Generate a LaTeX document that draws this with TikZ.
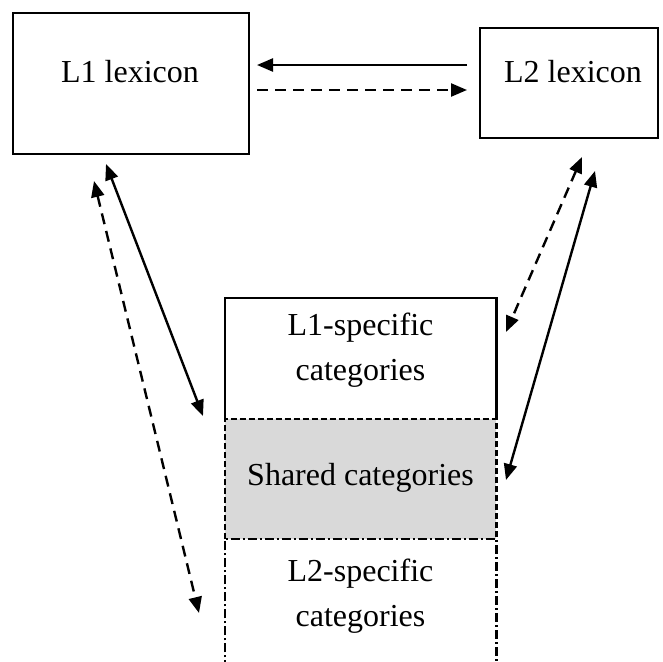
\documentclass[tikz,border=0pt]{standalone}
\usepackage{fontspec}
\setmainfont{Liberation Serif}
\usetikzlibrary{arrows.meta}
\definecolor{sharedgray}{HTML}{D9D9D9}
\begin{document}
\begin{tikzpicture}[x=1pt,y=-1pt,
  box/.style={draw, line width=2.4pt, inner sep=0pt, anchor=north west},
  area/.style={inner sep=0pt, anchor=north west, minimum width=271pt},
  lbl/.style={font=\fontsize{32}{37}\selectfont, inner sep=0pt, anchor=base},
  edge/.style={line width=2.4pt},
  dashedge/.style={line width=2.4pt, dash pattern=on 6pt off 3pt},
  dotedge/.style={line width=2.4pt, dash pattern=on 9pt off 3pt on 2pt off 3pt},
  link/.style={line width=2.4pt, {Triangle[length=16pt,width=13pt]}-{Triangle[length=16pt,width=13pt]}},
  onelink/.style={line width=2.4pt, -{Triangle[length=16pt,width=13pt]}},
  dashlink/.style={dash pattern=on 11pt off 7pt}]
\useasboundingbox (0,0) rectangle (662,662);

% lexicon boxes
\node[box, minimum width=236pt, minimum height=141pt] (l1) at (12,12) {};
\node[box, minimum width=178pt, minimum height=110pt] (l2) at (479,27) {};
\node[lbl] (l1t) at (130,82) {L1 lexicon};
\node[lbl] (l2t) at (573,82) {L2 lexicon};

% category column
\node[area, minimum height=121pt] (spec1) at (225,298) {};
\node[area, minimum height=120pt, fill=sharedgray] (shared) at (225,419) {};
\node[area, minimum height=130pt] (spec2) at (225,539) {};

\draw[edge] (spec1.south west) -- (spec1.north west) -- (spec1.north east) -- (spec1.south east);
\draw[dashedge] (shared.south west) -- (shared.north west) -- (shared.north east) -- (shared.south east);
\draw[dotedge] (spec2.south west) -- (spec2.north west) -- (spec2.north east) -- (spec2.south east);

\node[lbl] (s1a) at (360.5,335) {L1-specific};
\node[lbl] (s1b) at (360.5,380) {categories};
\node[lbl] (sh) at (360.5,485) {Shared categories};
\node[lbl] (s2a) at (360.5,581) {L2-specific};
\node[lbl] (s2b) at (360.5,626) {categories};

% arrow end points
\coordinate (h1) at (467,65);
\coordinate (h2) at (257,65);
\coordinate (h3) at (257,90);
\coordinate (h4) at (467,90);
\coordinate (p1) at (106,164);
\coordinate (p2) at (203,416);
\coordinate (q1) at (94,181);
\coordinate (q2) at (199,613);
\coordinate (r1) at (582,157);
\coordinate (r2) at (506,332);
\coordinate (t1) at (595,171);
\coordinate (t2) at (506,480);

% connectors
\draw[onelink] (h1) -- (h2);
\draw[onelink, dashlink] (h3) -- (h4);
\draw[link] (p1) -- (p2);
\draw[link, dashlink] (q1) -- (q2);
\draw[link, dashlink] (r1) -- (r2);
\draw[link] (t1) -- (t2);
\end{tikzpicture}
\end{document}
